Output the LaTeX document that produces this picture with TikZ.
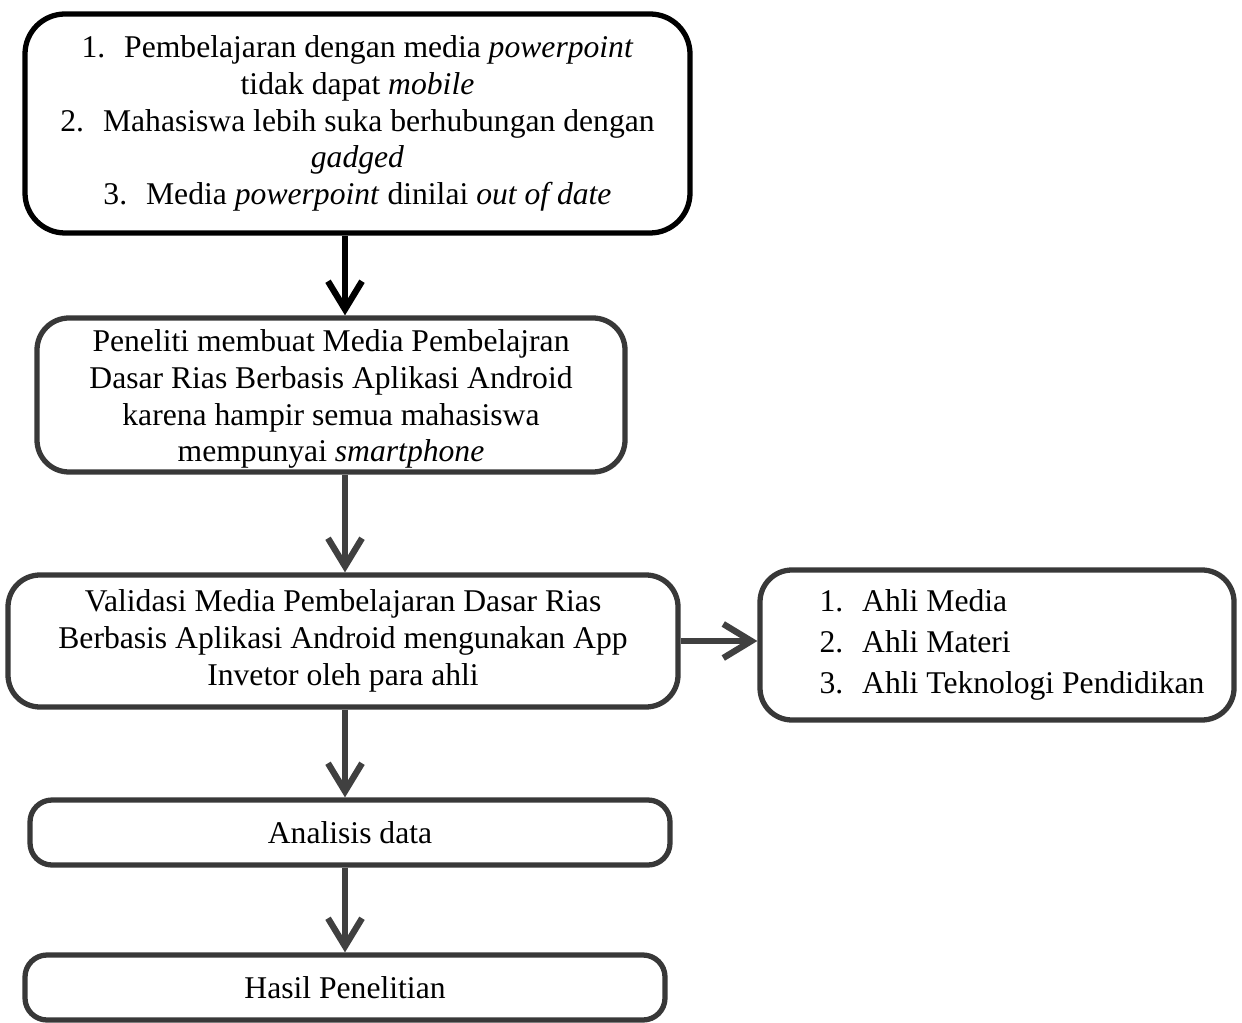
\documentclass[tikz,border=0pt]{standalone}
\usepackage{fontspec}
\setmainfont{Liberation Serif}
\usetikzlibrary{arrows.meta}
\newcommand{\itm}[1]{#1.\hspace{0.6em}}

\begin{document}
\begin{tikzpicture}[>={Straight Barb[length=2.8mm,width=3.4mm,line width=1.8pt]},
  every node/.style={font=\fontsize{9}{10.5}\selectfont, inner sep=0pt},
  box/.style={draw=black!78, line width=1.5pt, rounded corners=3.2mm, align=center},
  flow/.style={->, line width=1.8pt, draw=black!75}]
\useasboundingbox (0,0) rectangle (12.42,-10.23);

\node [box, draw=black, rounded corners=4mm, minimum width=6.65cm, minimum height=2.19cm] (b1) at (3.575,-1.235)
  {\itm{1}Pembelajaran dengan media \textit{powerpoint}\\ tidak dapat \textit{mobile}\\
   \itm{2}Mahasiswa lebih suka berhubungan dengan\\ \textit{gadged}\\
   \itm{3}Media \textit{powerpoint} dinilai \textit{out of date}};
\node [box, minimum width=5.88cm, minimum height=1.54cm] (b2) at (3.31,-3.95)
  {\rule{0pt}{0.3cm}Peneliti membuat Media Pembelajran\\ Dasar Rias Berbasis Aplikasi Android\\
   karena hampir semua mahasiswa\\ mempunyai \textit{smartphone}};
\node [box, minimum width=6.70cm, minimum height=1.32cm] (b3) at (3.43,-6.41)
  {Validasi Media Pembelajaran Dasar Rias\\ Berbasis Aplikasi Android mengunakan App\\ Invetor oleh para ahli};
\node [box, minimum width=4.74cm, minimum height=1.50cm] (b4) at (9.97,-6.45)
  {\begin{tabular}{@{\hspace{3mm}}l@{}}\itm{1}Ahli Media\\[1.2pt] \itm{2}Ahli Materi\\[1.2pt] \itm{3}Ahli Teknologi Pendidikan\end{tabular}};
\node [box, rounded corners=2.2mm, minimum width=6.40cm, minimum height=0.65cm] (b5) at (3.50,-8.325) {Analisis data};
\node [box, rounded corners=2.2mm, minimum width=6.40cm, minimum height=0.65cm] (b6) at (3.45,-9.875) {Hasil Penelitian};

\coordinate (ax) at (3.45,0);
\draw [flow, draw=black] (b1.south -| ax) -- (b2.north -| ax);
\draw [flow] (b2.south -| ax) -- (b3.north -| ax);
\draw [flow] (b3.east) -- (b3.east -| b4.west);
\draw [flow] (b3.south -| ax) -- (b5.north -| ax);
\draw [flow] (b5.south -| ax) -- (b6.north -| ax);
\end{tikzpicture}
\end{document}
